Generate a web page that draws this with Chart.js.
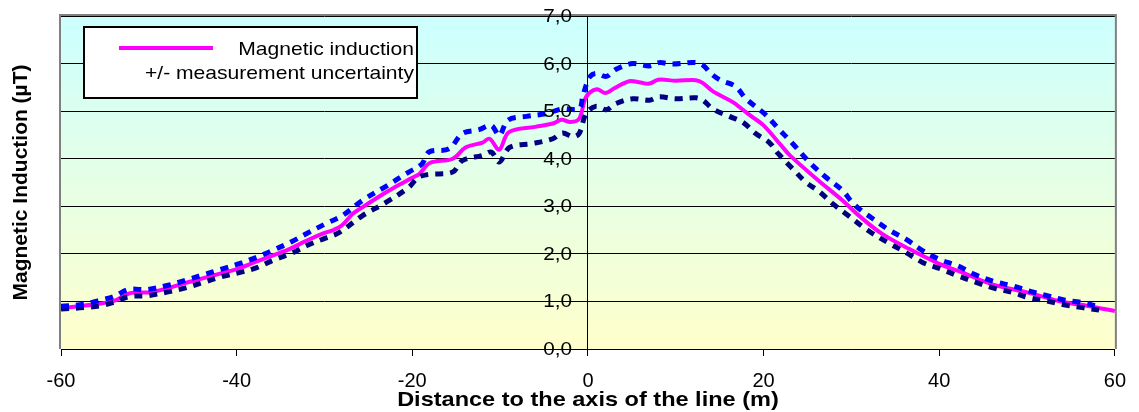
<!DOCTYPE html>
<html>
<head>
<meta charset="utf-8">
<script src="https://cdn.jsdelivr.net/npm/chart.js@4.4.1/dist/chart.umd.min.js"></script>
<style>
  html, body { margin: 0; padding: 0; background: #fff; }
</style>
</head>
<body>
<canvas id="chart" width="1139" height="412"></canvas>
<script>
// Magnetic induction along a profile across the line
const mainDistance = [-60, -58, -56, -54, -53, -52, -50, -48, -46, -44, -42, -40, -38, -36, -34, -32, -30, -29, -28, -26.8, -26, -24, -22, -20, -19.2, -18, -15.4, -13.9, -12, -11.2, -10.1, -9, -6, -4, -3, -2, -1, -0.2, 1, 2, 3, 4.7, 6, 7, 8, 10, 12.3, 13.1, 14.2, 16.5, 17.5, 18.7, 20, 22, 23, 26, 29, 31, 33.5, 36.6, 40, 42.6, 46, 50, 53.6, 57.4, 60];
const mainInduction = [0.86, 0.90, 0.94, 1.01, 1.10, 1.18, 1.19, 1.27, 1.38, 1.48, 1.58, 1.68, 1.82, 1.96, 2.10, 2.28, 2.44, 2.50, 2.60, 2.84, 2.94, 3.18, 3.40, 3.60, 3.68, 3.91, 4.00, 4.24, 4.34, 4.42, 4.19, 4.56, 4.67, 4.74, 4.82, 4.77, 4.84, 5.30, 5.46, 5.38, 5.48, 5.63, 5.60, 5.58, 5.66, 5.64, 5.65, 5.59, 5.42, 5.19, 5.05, 4.88, 4.70, 4.28, 4.07, 3.58, 3.12, 2.78, 2.42, 2.10, 1.79, 1.61, 1.36, 1.19, 1.01, 0.89, 0.80];

// upper bound (+ uncertainty)
const upperDistance = [-60, -57.4, -55.5, -54, -52.3, -50.2, -47.8, -45.7, -43.8, -41.7, -39.6, -37.7, -35.8, -33.7, -31.8, -29.9, -28, -25.7, -23, -20.4, -18.9, -18.1, -15.8, -14.3, -12.4, -11, -10.1, -9.1, -7, -4.7, -2.9, -1, -0.6, -0.2, 0.2, 0.9, 2.1, 3.2, 5.1, 7, 8.1, 9.6, 12.3, 13.2, 14, 15.1, 16.8, 18, 20.2, 21.7, 23.3, 25.2, 27.1, 29, 30.1, 31.4, 32.2, 34.3, 36.2, 38.1, 40.2, 42.1, 44, 46.2, 48.3, 50.2, 52.3, 54.2, 56.1, 58.2];
const upperInduction = [0.90, 0.94, 1.03, 1.10, 1.25, 1.25, 1.34, 1.45, 1.56, 1.68, 1.80, 1.93, 2.08, 2.26, 2.45, 2.63, 2.80, 3.12, 3.42, 3.72, 3.89, 4.14, 4.21, 4.53, 4.61, 4.70, 4.49, 4.81, 4.89, 4.95, 5.05, 5.05, 5.30, 5.55, 5.72, 5.79, 5.73, 5.88, 6.00, 5.95, 6.02, 5.99, 6.02, 5.95, 5.79, 5.65, 5.52, 5.26, 4.93, 4.63, 4.32, 3.93, 3.61, 3.33, 3.08, 2.87, 2.77, 2.50, 2.31, 2.07, 1.87, 1.75, 1.57, 1.42, 1.33, 1.22, 1.12, 1.03, 0.98, 0.89];

// lower bound (- uncertainty)
const lowerDistance = [-60, -57.4, -55.5, -54, -52.3, -50.2, -47.8, -45.7, -43.8, -41.7, -39.6, -37.7, -35.8, -33.9, -31.8, -29.9, -28.4, -25.7, -23, -20.4, -19.3, -18.1, -15.4, -14.3, -12, -11, -10.1, -8.9, -6.3, -4, -2.9, -1.7, -1, -0.2, 0.9, 2.1, 3.2, 5.1, 7, 8.1, 10, 12.3, 13.1, 14.2, 16.1, 17.6, 19.1, 20.6, 21.7, 23.3, 24.8, 26.4, 27.9, 29.4, 31.9, 34.3, 36.2, 38.1, 40.2, 42.1, 44.2, 46.2, 48.3, 50.2, 52.3, 54.2, 56.3, 58.2];
const lowerInduction = [0.84, 0.87, 0.91, 0.98, 1.10, 1.12, 1.20, 1.29, 1.40, 1.52, 1.61, 1.71, 1.87, 2.00, 2.19, 2.33, 2.44, 2.80, 3.08, 3.40, 3.61, 3.67, 3.72, 3.96, 4.07, 4.14, 3.93, 4.24, 4.32, 4.42, 4.54, 4.46, 4.53, 4.95, 5.10, 5.03, 5.16, 5.26, 5.23, 5.30, 5.26, 5.28, 5.23, 5.05, 4.89, 4.77, 4.53, 4.35, 4.10, 3.79, 3.51, 3.30, 3.05, 2.84, 2.49, 2.22, 2.03, 1.82, 1.68, 1.54, 1.40, 1.28, 1.19, 1.08, 1.01, 0.93, 0.87, 0.82];

const legendLabels = ['Magnetic induction', '+/- measurement uncertainty'];
const xTitle = 'Distance to the axis of the line (m)';
const yTitle = 'Magnetic Induction (\u00b5T)';

function toPoints(xs, ys) {
  return xs.map((x, i) => ({ x: x, y: ys[i] }));
}

function fmt(v) {
  return v.toFixed(1).replace('.', ',');
}

// gradient plot background + grey frame
const plotBackground = {
  id: 'plotBackground',
  beforeDraw(chart) {
    const ctx = chart.ctx, a = chart.chartArea;
    const g = ctx.createLinearGradient(0, a.top, 0, a.bottom);
    g.addColorStop(0, '#ccffff');
    g.addColorStop(1, '#ffffcc');
    ctx.save();
    ctx.fillStyle = g;
    ctx.fillRect(a.left, a.top, a.right - a.left, a.bottom - a.top);
    ctx.restore();
  },
  afterDatasetsDraw(chart) {
    const ctx = chart.ctx, a = chart.chartArea;
    ctx.save();
    ctx.strokeStyle = '#808080';
    ctx.lineWidth = 2;
    ctx.beginPath();
    ctx.moveTo(a.left - 1, a.bottom);
    ctx.lineTo(a.left - 1, a.top - 1);
    ctx.lineTo(a.right + 1, a.top - 1);
    ctx.lineTo(a.right + 1, a.bottom);
    ctx.stroke();
    ctx.restore();
  }
};

// y tick labels next to the centred axis, legend box and axis titles
const extras = {
  id: 'extras',
  afterDraw(chart) {
    const ctx = chart.ctx, a = chart.chartArea;
    const xs = chart.scales.x, ys = chart.scales.y;
    ctx.save();
    ctx.fillStyle = '#000';
    ctx.textBaseline = 'middle';

    // y tick labels, left of the axis at distance 0
    const axisX = xs.getPixelForValue(0);
    ctx.font = '18px "Liberation Sans", Arial, sans-serif';
    ctx.textAlign = 'right';
    ys.ticks.forEach(t => {
      ctx.save();
      ctx.translate(axisX - 16, ys.getPixelForValue(t.value) + 1);
      ctx.scale(1.15, 1);
      ctx.fillText(fmt(t.value), 0, 0);
      ctx.restore();
    });

    // legend
    ctx.fillStyle = '#fff';
    ctx.fillRect(84, 27, 333, 71);
    ctx.strokeStyle = '#000';
    ctx.lineWidth = 2;
    ctx.strokeRect(84, 27, 333, 71);
    ctx.strokeStyle = '#ff00ff';
    ctx.lineWidth = 4;
    ctx.beginPath();
    ctx.moveTo(119, 48);
    ctx.lineTo(213, 48);
    ctx.stroke();
    ctx.fillStyle = '#000';
    ctx.font = '19px "Liberation Sans", Arial, sans-serif';
    ctx.save();
    ctx.translate(414, 0);
    ctx.scale(1.11, 1);
    ctx.fillText(legendLabels[0], 0, 50);
    ctx.fillText(legendLabels[1], 0, 74);
    ctx.restore();

    // x title
    ctx.font = 'bold 21px "Liberation Sans", Arial, sans-serif';
    ctx.textAlign = 'center';
    ctx.save();
    ctx.translate((a.left + a.right) / 2, 400);
    ctx.scale(1.12, 1);
    ctx.fillText(xTitle, 0, 0);
    ctx.restore();

    // y title
    ctx.save();
    ctx.translate(21, (a.top + a.bottom) / 2);
    ctx.rotate(-Math.PI / 2);
    ctx.fillText(yTitle, 0, 0);
    ctx.restore();
    ctx.restore();
  }
};

const ctx = document.getElementById('chart').getContext('2d');
new Chart(ctx, {
  type: 'line',
  data: {
    datasets: [
      {
        label: 'upper',
        data: toPoints(upperDistance, upperInduction),
        borderColor: '#0000ff',
        borderWidth: 5,
        borderDash: [8, 7],
        borderCapStyle: 'butt',
        pointRadius: 0,
        tension: 0.35,
        fill: false
      },
      {
        label: 'lower',
        data: toPoints(lowerDistance, lowerInduction),
        borderColor: '#000080',
        borderWidth: 5,
        borderDash: [8, 7],
        borderCapStyle: 'butt',
        pointRadius: 0,
        tension: 0.35,
        fill: false
      },
      {
        label: legendLabels[0],
        data: toPoints(mainDistance, mainInduction),
        borderColor: '#ff00ff',
        borderWidth: 4,
        pointRadius: 0,
        tension: 0.35,
        fill: false
      }
    ]
  },
  options: {
    responsive: false,
    animation: false,
    layout: { padding: { left: 61, right: 23, top: 16, bottom: 6 } },
    plugins: {
      legend: { display: false },
      tooltip: { enabled: false }
    },
    scales: {
      x: {
        type: 'linear',
        min: -60,
        max: 60,
        ticks: {
          stepSize: 20,
          color: '#000',
          padding: 13,
          font: { family: '"Liberation Sans", Arial, sans-serif', size: 20 }
        },
        grid: { drawOnChartArea: false, drawTicks: true, tickLength: 7, color: '#000' },
        border: { color: '#000', width: 1 }
      },
      y: {
        // x range is symmetric, so the centre of the plot is distance 0
        position: 'center',
        min: 0,
        max: 7,
        ticks: { stepSize: 1, display: false },
        grid: { color: '#000', lineWidth: 1, tickLength: 6 },
        border: { color: '#000', width: 1 }
      }
    }
  },
  plugins: [plotBackground, extras]
});
</script>
</body>
</html>
